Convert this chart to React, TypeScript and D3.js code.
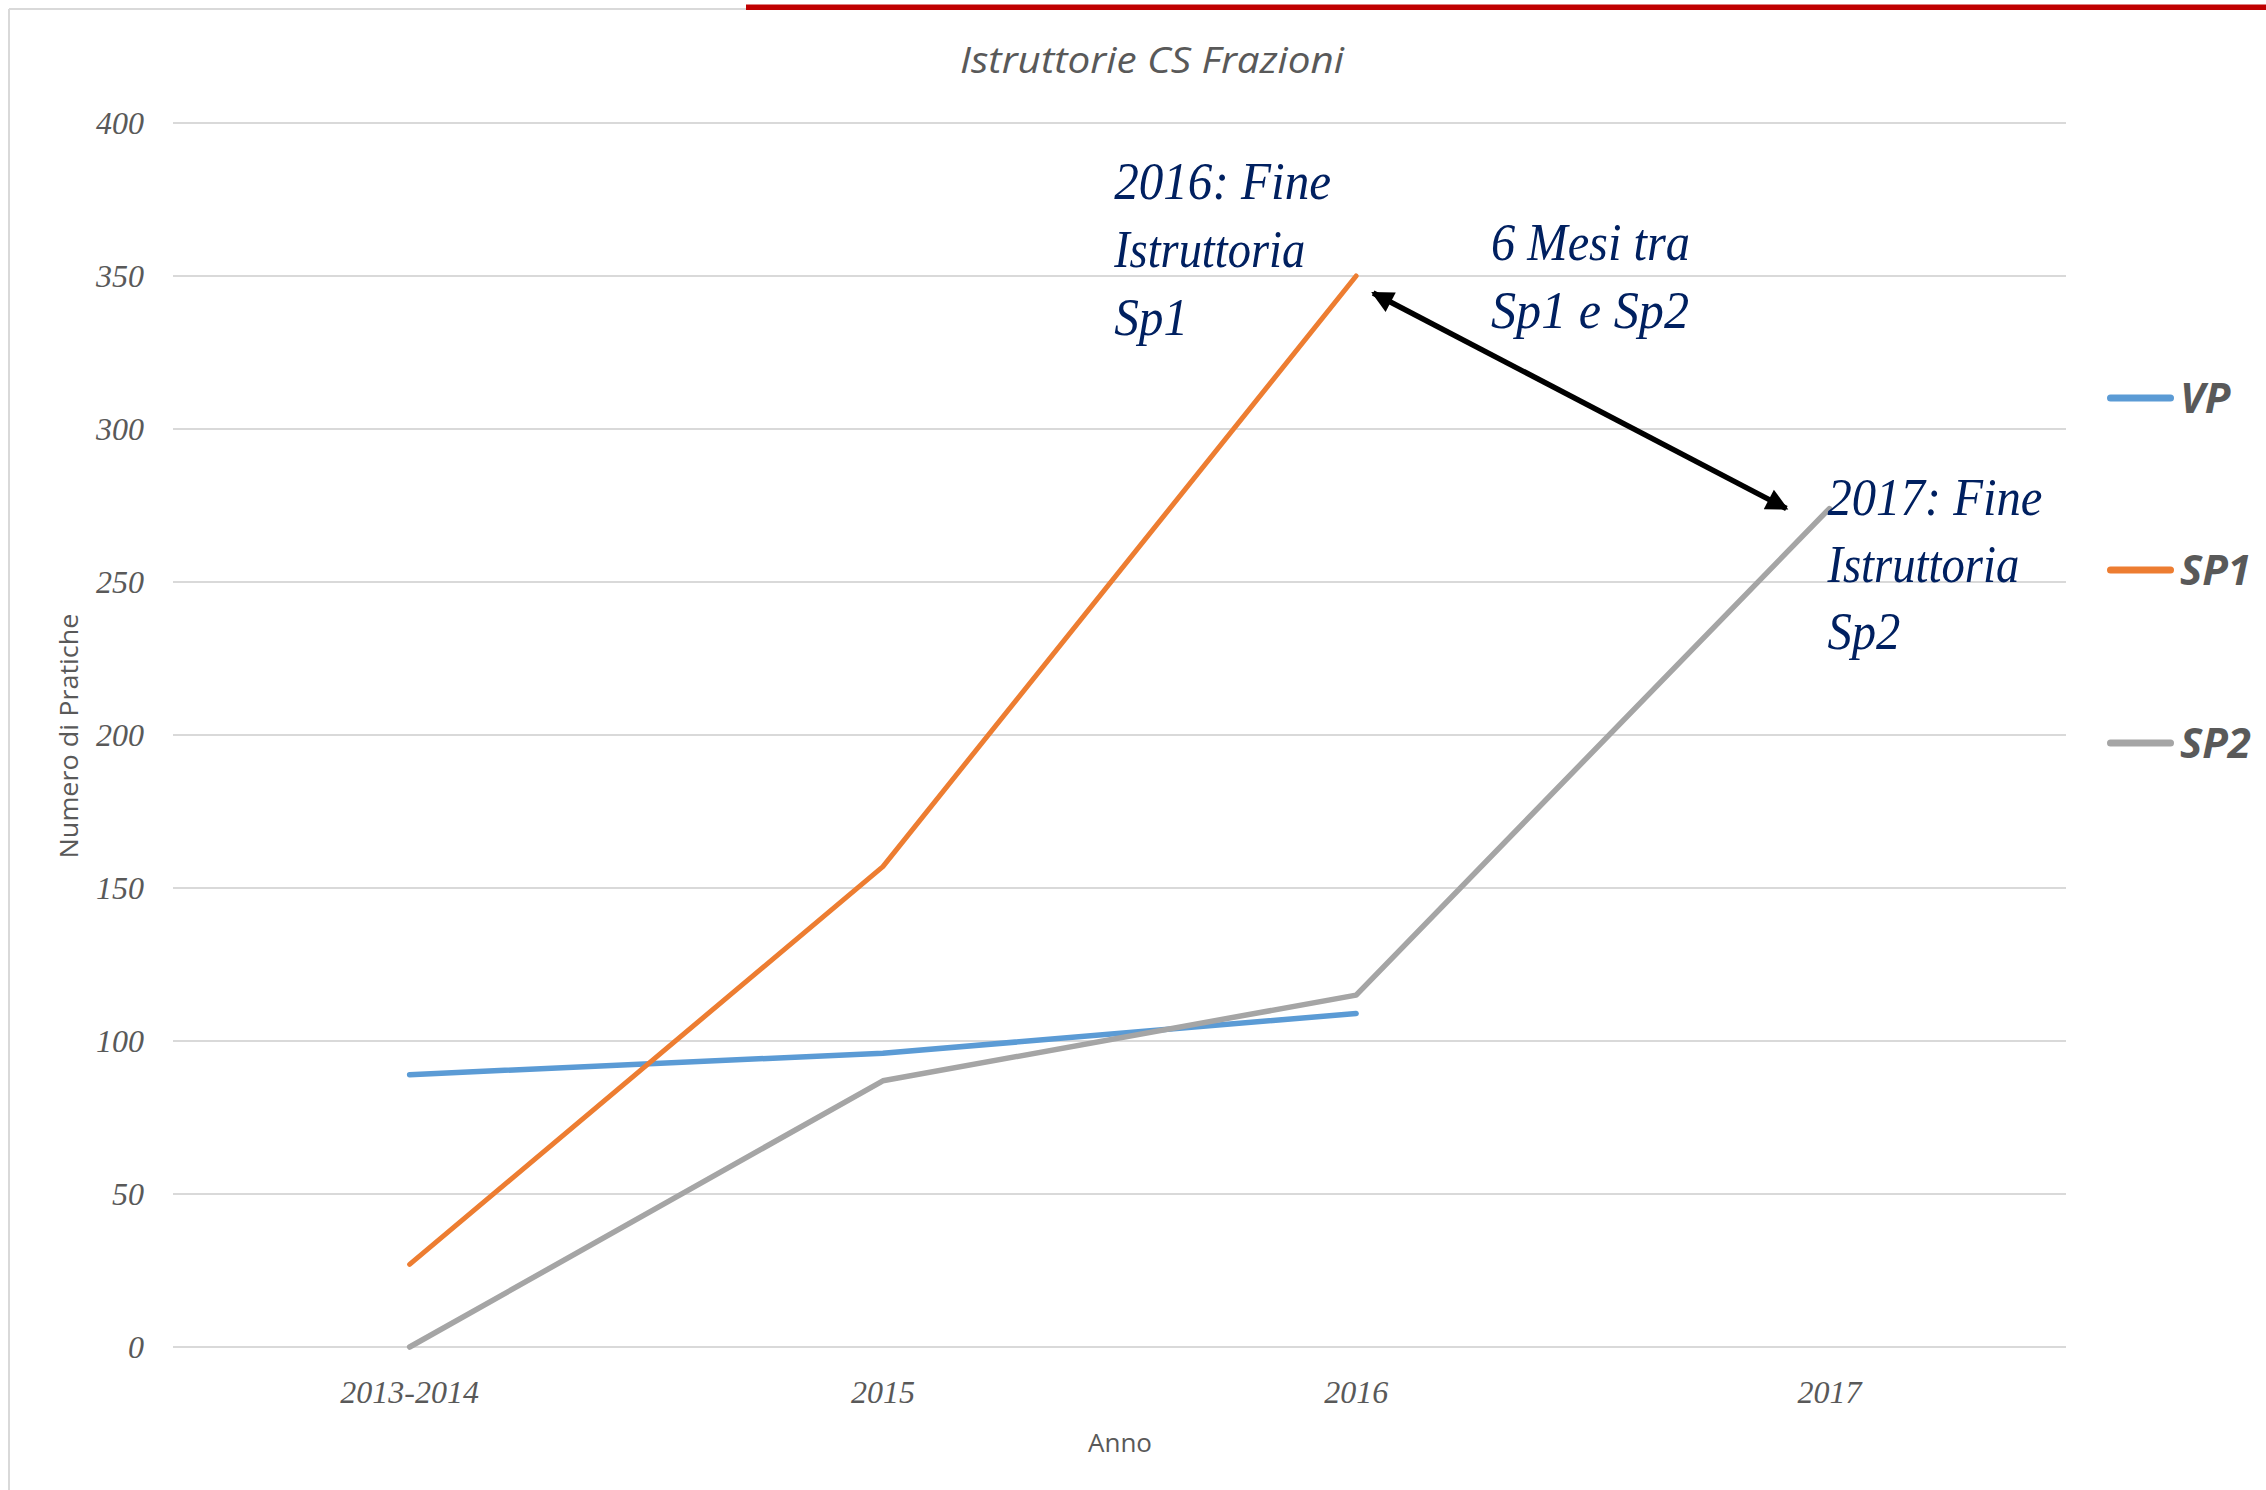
import React from "react";
import * as d3 from "d3";

const categories = ["2013-2014", "2015", "2016", "2017"];
const vpValues: (number | null)[] = [89, 96, 109, null];
const sp1Values: (number | null)[] = [27, 157, 350, null];
const sp2Values: (number | null)[] = [0, 87, 115, 274];
const yTicks = [0, 50, 100, 150, 200, 250, 300, 350, 400];
const seriesNames = ["VP", "SP1", "SP2"];
const seriesColors = ["#5B9BD5", "#ED7D31", "#A5A5A5"];
const titleText = "Istruttorie CS Frazioni";
const xTitle = "Anno";
const yTitle = "Numero di Pratiche";
const noteSp1 = ["2016: Fine", "Istruttoria", "Sp1"];
const noteGap = ["6 Mesi tra", "Sp1 e Sp2"];
const noteSp2 = ["2017: Fine", "Istruttoria", "Sp2"];

const W = 2266;
const H = 1490;
const plot = { left: 173, right: 2066, top: 123, bottom: 1347 };

export default function App() {
  const x = d3
    .scaleBand<string>()
    .domain(categories)
    .range([plot.left, plot.right])
    .padding(0);
  const cx = (c: string) => (x(c) as number) + x.bandwidth() / 2;
  const y = d3.scaleLinear().domain([0, 400]).range([plot.bottom, plot.top]);

  const series = [vpValues, sp1Values, sp2Values];
  const line = d3
    .line<[string, number | null]>()
    .defined((d) => d[1] !== null)
    .x((d) => cx(d[0]))
    .y((d) => y(d[1] as number));

  const serif = "'Liberation Serif', 'DejaVu Serif', serif";
  const sans = "'Open Sans', 'Noto Sans', sans-serif";
  const navy = "#002060";
  const gray = "#595959";

  const p16x = cx("2016");
  const p16y = y(350);
  const p17x = cx("2017");
  const p17y = y(274);

  const noteSp1Widths = [217, 191, 74];
  const noteGapWidths = [199, 198];
  const noteSp2Widths = [215, 192, 73];

  const legendY = [398, 570, 743];
  const seriesWidths = [5.5, 5, 5.5];

  return (
    <svg
      width={W}
      height={H}
      style={{ position: "absolute", left: 0, top: 0, background: "#fff" }}
    >
      <defs>
        <marker
          id="ah"
          viewBox="0 0 10 10"
          refX="9"
          refY="5"
          markerWidth="4.2"
          markerHeight="4"
          orient="auto-start-reverse"
          markerUnits="strokeWidth"
        >
          <path d="M0,0 L10,5 L0,10 z" fill="#000" />
        </marker>
      </defs>
      <rect x={0} y={0} width={W} height={H} fill="#fff" />
      <line x1={9} y1={9} x2={9} y2={H} stroke="#D9D9D9" strokeWidth={2} />
      <line x1={9} y1={9} x2={W} y2={9} stroke="#D9D9D9" strokeWidth={2} />
      <rect x={746} y={4.5} width={W - 746} height={5.5} fill="#C00000" />

      <text
        x={1152}
        y={72.5}
        textAnchor="middle"
        fontFamily={sans}
        fontStyle="italic"
        fontSize={37}
        fill={gray}
        textLength={384}
        lengthAdjust="spacingAndGlyphs"
      >
        {titleText}
      </text>

      {yTicks.map((t) => (
        <g key={t}>
          <line
            x1={plot.left}
            x2={plot.right}
            y1={y(t)}
            y2={y(t)}
            stroke="#D9D9D9"
            strokeWidth={2}
          />
          <text
            x={144}
            y={y(t) + 11}
            textAnchor="end"
            fontFamily={serif}
            fontStyle="italic"
            fontSize={32}
            fill={gray}
          >
            {t}
          </text>
        </g>
      ))}

      {categories.map((c) => (
        <text
          key={c}
          x={cx(c)}
          y={1403}
          textAnchor="middle"
          fontFamily={serif}
          fontStyle="italic"
          fontSize={32}
          fill={gray}
        >
          {c}
        </text>
      ))}

      <text
        x={1120}
        y={1452}
        textAnchor="middle"
        fontFamily={sans}
        fontSize={26}
        fill={gray}
      >
        {xTitle}
      </text>
      <text
        transform={`translate(78,736) rotate(-90)`}
        textAnchor="middle"
        fontFamily={sans}
        fontSize={26}
        fill={gray}
        textLength={245}
        lengthAdjust="spacingAndGlyphs"
      >
        {yTitle}
      </text>

      {series.map((vals, i) => (
        <path
          key={seriesNames[i]}
          d={line(categories.map((c, j) => [c, vals[j]]) as any) || ""}
          fill="none"
          stroke={seriesColors[i]}
          strokeWidth={seriesWidths[i]}
          strokeLinejoin="round"
          strokeLinecap="round"
        />
      ))}

      <line
        x1={p16x + 17}
        y1={p16y + 17}
        x2={p17x - 43}
        y2={p17y}
        stroke="#000"
        strokeWidth={5.5}
        markerStart="url(#ah)"
        markerEnd="url(#ah)"
      />

      {noteSp1.map((s, i) => (
        <text
          key={"a" + i}
          x={p16x - 242}
          y={199 + i * 68}
          fontFamily={serif}
          fontStyle="italic"
          fontSize={52}
          fill={navy}
          textLength={noteSp1Widths[i]}
          lengthAdjust="spacingAndGlyphs"
        >
          {s}
        </text>
      ))}
      {noteGap.map((s, i) => (
        <text
          key={"b" + i}
          x={1491}
          y={260 + i * 68}
          fontFamily={serif}
          fontStyle="italic"
          fontSize={52}
          fill={navy}
          textLength={noteGapWidths[i]}
          lengthAdjust="spacingAndGlyphs"
        >
          {s}
        </text>
      ))}
      {noteSp2.map((s, i) => (
        <text
          key={"c" + i}
          x={p17x - 2}
          y={515 + i * 67}
          fontFamily={serif}
          fontStyle="italic"
          fontSize={52}
          fill={navy}
          textLength={noteSp2Widths[i]}
          lengthAdjust="spacingAndGlyphs"
        >
          {s}
        </text>
      ))}

      {seriesNames.map((n, i) => (
        <g key={n}>
          <line
            x1={2110.5}
            x2={2170.5}
            y1={legendY[i]}
            y2={legendY[i]}
            stroke={seriesColors[i]}
            strokeWidth={7}
            strokeLinecap="round"
          />
          <text
            x={2180}
            y={legendY[i] + 15}
            fontFamily={sans}
            fontStyle="italic"
            fontWeight="bold"
            fontSize={42}
            fill={gray}
          >
            {n}
          </text>
        </g>
      ))}
    </svg>
  );
}
